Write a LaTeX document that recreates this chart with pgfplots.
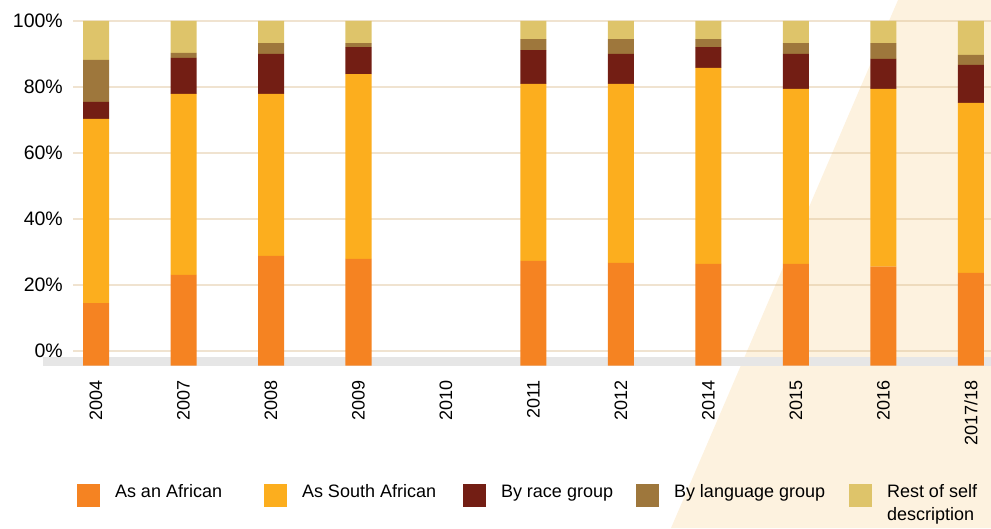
\documentclass[border=0pt]{standalone}
\usepackage{fontspec}
\setmainfont{Liberation Sans}
\usepackage{pgfplots}
\pgfplotsset{compat=1.18}
\definecolor{cAfr}{HTML}{F58322}
\definecolor{cSA}{HTML}{FCAE1E}
\definecolor{cRace}{HTML}{731E14}
\definecolor{cLang}{HTML}{9E773C}
\definecolor{cRest}{HTML}{DEC46A}
\definecolor{cream}{HTML}{FDF2DF}
\definecolor{gridc}{HTML}{D9B98A}
\definecolor{band}{HTML}{E6E6E6}
\pgfplotsset{sqlegend/.style={legend image code/.code={\fill[##1] (0pt,-9pt) rectangle (23pt,14pt);}}}
\begin{document}
\begin{tikzpicture}[x=1pt,y=1pt]
\useasboundingbox (0,0) rectangle (991,528);
\fill[cream] (898,528) -- (991,528) -- (991,0) -- (671,0) -- cycle;
\fill[band] (43,162) rectangle (991,171);
\begin{axis}[
  at={(73pt,162pt)}, anchor=south west,
  scale only axis, width=918pt, height=345pt,
  xmin=-0.263, xmax=10.229, ymin=-4.6, ymax=100,
  ybar stacked, bar width=26pt,
  clip=false,
  axis line style={draw=none},
  major tick length=0pt,
  xtick={0,...,10},
  xticklabels={2004,2007,2008,2009,2010,2011,2012,2014,2015,2016,2017/18},
  ytick={0,20,40,60,80,100},
  yticklabels={0\%,20\%,40\%,60\%,80\%,100\%},
  ymajorgrids,
  grid style={draw=gridc, draw opacity=0.4, line width=2.5pt},
  xticklabel style={rotate=90, anchor=east, font=\fontsize{18}{20}\selectfont, inner xsep=14pt},
  yticklabel style={font=\fontsize{19.5}{22}\selectfont, inner xsep=10pt},
  legend columns=5,
  legend cell align=left,
  legend style={draw=none, fill=none, inner sep=0pt, outer sep=0pt,
    at={(axis description cs:0.00436,-0.342)}, anchor=north west,
    font=\fontsize{18}{23}\selectfont,
    nodes={inner sep=0pt, outer sep=0pt},
    /tikz/every odd column/.append style={column sep=15pt},
    /tikz/every even column/.append style={column sep=0pt}},
]
\addplot[fill=cAfr, draw=none, sqlegend] coordinates {(0,14.5) (1,23.0) (2,28.8) (3,27.9) (5,27.3) (6,26.7) (7,26.4) (8,26.4) (9,25.5) (10,23.6)};
\addplot[fill=cSA, draw=none, sqlegend] coordinates {(0,55.8) (1,54.9) (2,49.1) (3,56.0) (5,53.6) (6,54.2) (7,59.4) (8,53.0) (9,53.9) (10,51.6)};
\addplot[fill=cRace, draw=none, sqlegend] coordinates {(0,5.2) (1,10.9) (2,12.1) (3,8.2) (5,10.3) (6,9.1) (7,6.3) (8,10.6) (9,9.1) (10,11.5)};
\addplot[fill=cLang, draw=none, sqlegend] coordinates {(0,12.7) (1,1.5) (2,3.3) (3,1.2) (5,3.3) (6,4.5) (7,2.4) (8,3.3) (9,4.8) (10,3.0)};
\addplot[fill=cRest, draw=none, sqlegend] coordinates {(0,11.8) (1,9.7) (2,6.7) (3,6.7) (5,5.5) (6,5.5) (7,5.5) (8,6.7) (9,6.7) (10,10.3)};
\addlegendentry{\smash{\makebox[149pt][l]{As an African}}}
\addlegendentry{\smash{\makebox[161pt][l]{As South African}}}
\addlegendentry{\smash{\makebox[135pt][l]{By race group}}}
\addlegendentry{\smash{\makebox[175pt][l]{By language group}}}
\addlegendentry{\smash{\begin{tabular}[t]{@{}l@{}}Rest of self\\description\end{tabular}}}
\end{axis}
\begin{axis}[
  at={(73pt,162pt)}, anchor=south west,
  scale only axis, width=918pt, height=345pt,
  xmin=-0.263, xmax=10.229, ymin=-4.6, ymax=100,
  hide axis, clip=false,
  ybar, bar width=26pt,
]
\addplot[fill=cAfr, draw=none] coordinates {(0,-4.5) (1,-4.5) (2,-4.5) (3,-4.5) (5,-4.5) (6,-4.5) (7,-4.5) (8,-4.5) (9,-4.5) (10,-4.5)};
\end{axis}
\end{tikzpicture}
\end{document}
